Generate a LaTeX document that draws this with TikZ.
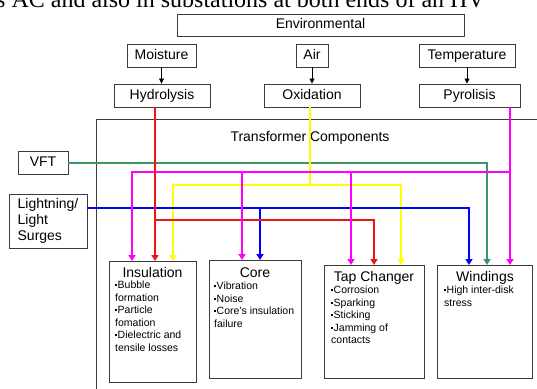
\documentclass[tikz,border=0pt]{standalone}
\usepackage{fontspec}
\setmainfont{Liberation Sans}
\newfontfamily\serifdoc{Liberation Serif}
\usetikzlibrary{arrows.meta}
\definecolor{cRed}{RGB}{240,20,20}
\definecolor{cYel}{RGB}{255,255,0}
\definecolor{cMag}{RGB}{255,0,255}
\definecolor{cBlu}{RGB}{0,0,255}
\definecolor{cGrn}{RGB}{60,150,100}
\definecolor{boxline}{RGB}{60,60,60}
\newcommand\mybul{\raisebox{2.6pt}{\rule{1.8pt}{1.8pt}}\hspace{0.7pt}}
\begin{document}
\begin{tikzpicture}[x=1pt,y=-1pt,
  box/.style={draw=boxline,line width=0.9pt,inner sep=0pt,font=\fontsize{14}{16}\selectfont,text height=10pt,text depth=2.5pt},
  mlbox/.style={draw=boxline,line width=0.9pt,inner sep=0pt,font=\fontsize{14}{16}\selectfont,align=left},
  comp/.style={draw=boxline,line width=0.9pt,inner sep=0pt},
  title/.style={font=\fontsize{14}{16}\selectfont,inner sep=0pt,anchor=base},
  body/.style={font=\fontsize{10.5}{12.5}\selectfont,inner sep=0pt,align=left,anchor=north west},
  blk/.style={line width=0.8pt,-{Triangle[length=5pt,width=5pt]}},
  wire/.style={line width=2.2pt,-{Triangle[length=6pt,width=7pt]}}]
\useasboundingbox (0,0) rectangle (537,388);
\clip (0,0) rectangle (537,388);
% cut-off line of the surrounding document
\node[anchor=base west,inner sep=0pt,font=\serifdoc\fontsize{24}{24}\selectfont] (hdr) at (-4,7) {s AC and also in substations at both ends of an HV};
% top boxes
\node[box,minimum width=287pt,minimum height=22pt] (env) at (320.5,25) {Environmental};
\node[box,minimum width=69pt,minimum height=23pt] (moist) at (161.5,55.5) {Moisture};
\node[box,minimum width=32pt,minimum height=23pt] (air) at (312,55.5) {Air};
\node[box,minimum width=96pt,minimum height=23pt] (temp) at (467,55.5) {Temperature};
\node[box,minimum width=96pt,minimum height=23pt] (hydro) at (162,95.5) {Hydrolysis};
\node[box,minimum width=96pt,minimum height=23pt] (oxid) at (312,95.5) {Oxidation};
\node[box,minimum width=101pt,minimum height=23pt] (pyro) at (469.5,95.5) {Pyrolisis};
\draw[blk] (moist.south) -- (moist.south |- hydro.north);
\draw[blk] (air.south) -- (air.south |- oxid.north);
\draw[blk] (temp.south) -- (temp.south |- pyro.north);
% transformer components frame
\node[comp,minimum width=470pt,minimum height=290pt,anchor=north west] (tc) at (96,119) {};
\node[inner sep=0pt,font=\fontsize{14}{16}\selectfont] (tcl) at (310,138) {Transformer Components};
% left boxes
\node[box,minimum width=50pt,minimum height=23pt] (vft) at (43,163) {VFT};
\node[mlbox,minimum width=78pt,minimum height=54pt] (light) at (48,221) {Lightning/\\Light\\Surges};
% component boxes
\node[comp,minimum width=87pt,minimum height=121pt] (ins) at (152.5,321.5) {};
\node[comp,minimum width=92pt,minimum height=118pt] (core) at (255,319) {};
\node[comp,minimum width=100pt,minimum height=113pt] (tap) at (374,321.5) {};
\node[comp,minimum width=95pt,minimum height=113pt] (wind) at (484.5,321.5) {};
\node[title] (insT) at (152.5,277) {Insulation};
\node[title] (coreT) at (255,277) {Core};
\node[title] (tapT) at (374,281) {Tap Changer};
\node[title] (windT) at (485,281) {Windings};
\node[body] (insB) at (115,281) {\mybul Bubble\\formation\\\mybul Particle\\fomation\\\mybul Dielectric and\\tensile losses};
\node[body] (coreB) at (214,282) {\mybul Vibration\\\mybul Noise\\\mybul Core's insulation\\failure};
\node[body] (tapB) at (331,286) {\mybul Corrosion\\\mybul Sparking\\\mybul Sticking\\\mybul Jamming of\\contacts};
\node[body] (windB) at (444,286) {\mybul High inter-disk\\stress};
% arrow targets and branch points
\coordinate (iM) at (132,261);
\coordinate (iR) at (155,261);
\coordinate (iY) at (173,261);
\coordinate (cM) at (242,260);
\coordinate (cB) at (260,260);
\coordinate (tM) at (351,265);
\coordinate (tR) at (374,265);
\coordinate (tY) at (401,265);
\coordinate (wB) at (469,265);
\coordinate (wG) at (487,265);
\coordinate (wM) at (510,265);
\coordinate (mB) at (510,172);
\coordinate (yB) at (310,185);
\coordinate (bB) at (260,208);
\coordinate (rB) at (155,220);
% wires
\draw[wire,cGrn] (vft.east) -| (wG);
\draw[wire,cYel] (oxid.south -| yB) -- (yB) -| (iY);
\draw[wire,cYel] (yB) -| (tY);
\draw[wire,cBlu] (light.east |- bB) -| (wB);
\draw[wire,cBlu] (bB) -- (cB);
\draw[wire,cRed] (rB) -| (tR);
\draw[wire,cMag] (pyro.south -| wM) -- (wM);
\draw[wire,cMag] (mB) -| (iM);
\draw[wire,cMag] (cM |- mB) -- (cM);
\draw[wire,cMag] (tM |- mB) -- (tM);
\draw[wire,cRed] (hydro.south -| iR) -- (iR);
\end{tikzpicture}
\end{document}
